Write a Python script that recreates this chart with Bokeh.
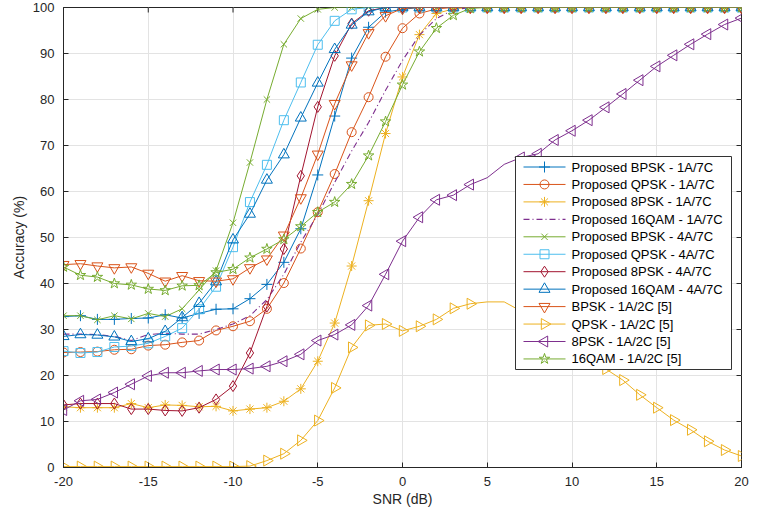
import math
from bokeh.plotting import figure
from bokeh.models import ColumnDataSource, Range1d, FixedTicker
from bokeh.core.properties import value
from bokeh.embed import file_html
from bokeh.resources import INLINE

# ---------------- data ----------------
snr = [-20, -19, -18, -17, -16, -15, -14, -13, -12, -11, -10, -9, -8, -7, -6, -5, -4, -3, -2, -1, 0,
       1, 2, 3, 4, 5, 6, 7, 8, 9, 10, 11, 12, 13, 14, 15, 16, 17, 18, 19, 20]

x_ticks = [-20, -15, -10, -5, 0, 5, 10, 15, 20]
x_tick_labels = ["-20", "-15", "-10", "-5", "0", "5", "10", "15", "20"]
y_ticks = [0, 10, 20, 30, 40, 50, 60, 70, 80, 90, 100]
y_tick_labels = ["0", "10", "20", "30", "40", "50", "60", "70", "80", "90", "100"]

bpsk_1a7c = [32.8, 33.0, 32.2, 32.2, 32.4, 32.5, 33.2, 32.5, 33.5, 34.4, 34.5, 36.7, 39.8, 44.6, 51.9,
             63.6, 76.4, 89.0, 95.7, 99.0, 99.6,
             100, 100, 100, 100, 100, 100, 100, 100, 100, 100, 100, 100, 100, 100, 100, 100, 100, 100, 100, 100]
qpsk_1a7c = [25.0, 25.1, 25.2, 25.6, 25.7, 26.5, 26.7, 27.2, 27.6, 29.8, 30.7, 31.8, 34.5, 40.1, 47.6,
             55.5, 63.8, 72.9, 80.5, 89.3, 95.5, 98.7, 99.7,
             100, 100, 100, 100, 100, 100, 100, 100, 100, 100, 100, 100, 100, 100, 100, 100, 100, 100]
psk8_1a7c = [13.2, 13.0, 13.0, 13.0, 13.9, 13.0, 13.6, 13.5, 13.2, 13.3, 12.3, 12.7, 13.0, 14.4, 17.1,
             23.1, 31.4, 43.8, 58.0, 72.6, 84.9, 94.1, 98.7, 99.7,
             100, 100, 100, 100, 100, 100, 100, 100, 100, 100, 100, 100, 100, 100, 100, 100, 100]
qam16_1a7c = [29.0, 29.0, 28.9, 28.5, 27.6, 28.9, 29.2, 29.0, 29.0, 30.0, 31.2, 33.0, 36.5, 42.0, 49.0,
              55.0, 62.0, 68.8, 75.0, 82.0, 88.5, 94.0, 97.6, 99.5,
              100, 100, 100, 100, 100, 100, 100, 100, 100, 100, 100, 100, 100, 100, 100, 100, 100]
bpsk_4a7c = [33.0, 33.0, 32.1, 33.0, 32.3, 33.5, 32.8, 34.5, 38.6, 42.8, 53.2, 66.3, 80.0, 92.0, 97.6, 99.6,
             100, 100, 100, 100, 100, 100, 100, 100, 100, 100, 100, 100, 100, 100, 100, 100, 100, 100, 100,
             100, 100, 100, 100, 100, 100]
qpsk_4a7c = [25.3, 24.9, 25.1, 26.2, 26.4, 27.0, 28.5, 30.3, 34.4, 39.3, 47.9, 57.7, 65.8, 75.5, 83.7,
             91.9, 97.1, 99.6,
             100, 100, 100, 100, 100, 100, 100, 100, 100, 100, 100, 100, 100, 100, 100, 100, 100, 100, 100,
             100, 100, 100, 100]
psk8_4a7c = [13.6, 13.9, 13.9, 13.9, 12.7, 12.7, 12.4, 12.3, 13.0, 14.8, 17.7, 24.9, 35.0, 47.5, 63.4,
             78.4, 89.5, 96.5, 99.3,
             100, 100, 100, 100, 100, 100, 100, 100, 100, 100, 100, 100, 100, 100, 100, 100, 100, 100, 100,
             100, 100, 100]
qam16_4a7c = [28.5, 28.9, 28.8, 28.4, 27.4, 28.0, 29.6, 32.6, 35.7, 40.4, 49.5, 55.1, 62.5, 68.0, 76.0,
              83.6, 90.9, 96.2, 99.1,
              100, 100, 100, 100, 100, 100, 100, 100, 100, 100, 100, 100, 100, 100, 100, 100, 100, 100, 100,
              100, 100, 100]
bpsk_ref = [44.1, 44.3, 43.8, 43.4, 43.6, 42.2, 40.5, 41.7, 40.6, 40.5, 41.0, 43.4, 45.3, 50.5, 58.6,
            68.1, 79.1, 87.5, 94.5, 98.2, 99.8,
            100, 100, 100, 100, 100, 100, 100, 100, 100, 100, 100, 100, 100, 100, 100, 100, 100, 100, 100, 100]
qpsk_ref = [0.2, 0.2, 0.2, 0.2, 0.2, 0.2, 0.2, 0.2, 0.2, 0.2, 0.2, 0.3, 1.5, 3.0, 5.9, 10.2, 17.3, 26.1,
            30.9, 31.2, 29.7, 30.7, 32.2, 34.6, 35.6, 36.0, 36.0, 34.0, 31.5, 29.0, 26.5, 24.0, 21.4, 19.0,
            15.8, 13.0, 10.3, 8.2, 5.7, 3.8, 2.5]
psk8_ref = [12.5, 14.5, 14.8, 16.3, 18.1, 19.9, 20.6, 20.6, 21.0, 21.3, 21.3, 21.5, 22.0, 23.1, 24.6,
            27.6, 28.9, 31.0, 35.2, 42.0, 49.2, 54.4, 58.2, 59.2, 61.5, 63.0, 65.9, 67.4, 68.2, 71.2, 73.2,
            75.5, 78.3, 81.2, 84.2, 87.2, 89.6, 92.0, 94.2, 96.3, 97.7]
qam16_ref = [43.6, 41.8, 41.4, 40.0, 39.7, 38.8, 38.5, 39.5, 39.6, 42.4, 43.1, 45.6, 47.5, 49.6, 52.4,
             55.5, 57.7, 61.6, 67.8, 75.2, 83.2, 90.4, 95.5, 98.3, 99.8,
             100, 100, 100, 100, 100, 100, 100, 100, 100, 100, 100, 100, 100, 100, 100, 100]

# SNR points where the reference [5] curves show no marker
ref_unmarked_snr = [5, 6]

labels = ["Proposed BPSK - 1A/7C", "Proposed QPSK - 1A/7C", "Proposed 8PSK - 1A/7C",
          "Proposed 16QAM - 1A/7C", "Proposed BPSK - 4A/7C", "Proposed QPSK - 4A/7C",
          "Proposed 8PSK - 4A/7C", "Proposed 16QAM - 4A/7C", "BPSK - 1A/2C [5]",
          "QPSK - 1A/2C [5]", "8PSK - 1A/2C [5]", "16QAM - 1A/2C [5]"]

# ---------------- layout (pixels) ----------------
W, H = 762, 515
FL, FR, FT, FB = 63, 741, 7, 467          # frame edges in figure pixels
XMIN, XMAX, YMIN, YMAX = -20, 20, 0, 100
TICK_LEN = 5


def px2x(px):
    return XMIN + (px - FL) / (FR - FL) * (XMAX - XMIN)


def py2y(py):
    return YMIN + (FB - py) / (FB - FT) * (YMAX - YMIN)


FONT = "Liberation Sans"
TXT = "#262626"

p = figure(width=W, height=H, output_backend="svg", toolbar_location=None,
           x_range=Range1d(XMIN, XMAX), y_range=Range1d(YMIN, YMAX),
           min_border_left=FL, min_border_right=W - FR, min_border_top=FT, min_border_bottom=H - FB,
           background_fill_color="white", border_fill_color="white")

p.xaxis.ticker = FixedTicker(ticks=x_ticks)
p.yaxis.ticker = FixedTicker(ticks=y_ticks)
p.xaxis.major_label_overrides = {t: l for t, l in zip(x_ticks, x_tick_labels)}
p.yaxis.major_label_overrides = {t: l for t, l in zip(y_ticks, y_tick_labels)}
p.xaxis.axis_label = "SNR (dB)"
p.yaxis.axis_label = "Accuracy (%)"
for ax in (p.xaxis, p.yaxis):
    ax.axis_label_text_font = FONT
    ax.axis_label_text_font_size = "14px"
    ax.axis_label_text_font_style = "normal"
    ax.axis_label_text_color = TXT
    ax.major_label_text_font = FONT
    ax.major_label_text_font_size = "13px"
    ax.major_label_text_color = TXT
    ax.axis_line_color = TXT
    ax.major_tick_line_color = TXT
    ax.major_tick_in = TICK_LEN
    ax.major_tick_out = 0
    ax.minor_tick_line_color = None
p.xaxis.major_label_standoff = 9
p.xaxis.axis_label_standoff = 2
p.yaxis.major_label_standoff = 9
p.yaxis.axis_label_standoff = 3
p.grid.grid_line_color = "#e3e3e3"
p.grid.grid_line_width = 1
p.outline_line_color = TXT
p.outline_line_width = 1

# inward ticks on the top and right edges of the box
p.segment(x0=x_ticks, x1=x_ticks, y0=[YMAX] * len(x_ticks), y1=[py2y(FT + TICK_LEN)] * len(x_ticks),
          line_color=TXT, line_width=1)
p.segment(x0=[XMAX] * len(y_ticks), x1=[px2x(FR - TICK_LEN)] * len(y_ticks), y0=y_ticks, y1=y_ticks,
          line_color=TXT, line_width=1)

C_BLUE = "#0072BD"
C_ORANGE = "#D95319"
C_YELLOW = "#EDB120"
C_PURPLE = "#7E2F8E"
C_GREEN = "#77AC30"
C_CYAN = "#4DBEEE"
C_RED = "#A2142F"

series = [
    (bpsk_1a7c, C_BLUE, "cross", 0.0, 11, None),
    (qpsk_1a7c, C_ORANGE, "circle", 0.0, 9, None),
    (psk8_1a7c, C_YELLOW, "asterisk", 0.0, 10, None),
    (qam16_1a7c, C_PURPLE, None, 0.0, 0, None),
    (bpsk_4a7c, C_GREEN, "x", 0.0, 9, None),
    (qpsk_4a7c, C_CYAN, "square", 0.0, 9, None),
    (psk8_4a7c, C_RED, "diamond", 0.0, 11, None),
    (qam16_4a7c, C_BLUE, "triangle", 0.0, 11, None),
    (bpsk_ref, C_ORANGE, "inverted_triangle", 0.0, 11, None),
    (qpsk_ref, C_YELLOW, "triangle", -math.pi / 2, 11, ref_unmarked_snr),
    (psk8_ref, C_PURPLE, "triangle", math.pi / 2, 11, ref_unmarked_snr),
    (qam16_ref, C_GREEN, "star", 0.0, 11, None),
]
DASHDOT = "6 3 1 3"

for (vals, col, marker, ang, size, skip) in series:
    src = ColumnDataSource(dict(x=snr, y=vals))
    if marker is None:
        p.line("x", "y", source=src, line_color=col, line_width=1.1, line_dash=DASHDOT)
        continue
    p.line("x", "y", source=src, line_color=col, line_width=1)
    if skip:
        mx = [x for x, y in zip(snr, vals) if x not in skip]
        my = [y for x, y in zip(snr, vals) if x not in skip]
    else:
        mx, my = snr, vals
    p.scatter("x", "y", source=ColumnDataSource(dict(x=mx, y=my)), marker=marker, size=size,
              angle=ang, line_color=col, line_width=1, fill_color=None)

# ---------------- legend (drawn as glyphs so rotated markers show correctly) ----------------
LB_L, LB_R, LB_T, LB_B = 515, 731, 156, 369     # legend box, pixels
ROW0, PITCH = 166.5, 17.45                       # first row centre and row pitch, pixels
SEG_L, SEG_R, TXT_X = 523, 565, 571

p.quad(left=[px2x(LB_L)], right=[px2x(LB_R)], top=[py2y(LB_T)], bottom=[py2y(LB_B)],
       fill_color="white", line_color="#333333", line_width=1)

for i, ((vals, col, marker, ang, size, skip), lab) in enumerate(zip(series, labels)):
    yy = py2y(ROW0 + i * PITCH)
    if marker is None:
        p.line([px2x(SEG_L), px2x(SEG_R)], [yy, yy], line_color=col, line_width=1.1, line_dash=DASHDOT)
    else:
        p.line([px2x(SEG_L), px2x(SEG_R)], [yy, yy], line_color=col, line_width=1)
        p.scatter([px2x((SEG_L + SEG_R) / 2)], [yy], marker=marker, size=size, angle=ang,
                  line_color=col, line_width=1, fill_color=None)
    p.text([px2x(TXT_X)], [yy], text=[lab], text_font=value(FONT), text_font_size="13px",
           text_color="#000000", text_baseline="middle", text_align="left")

open("out.html", "w").write(file_html(p, INLINE))
